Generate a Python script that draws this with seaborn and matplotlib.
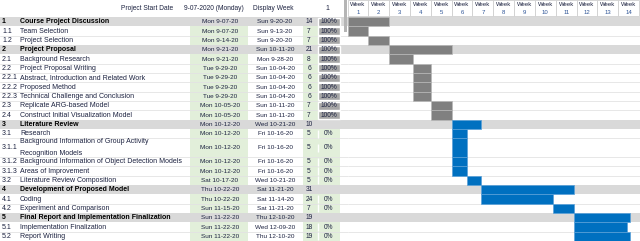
import pandas as pd
import matplotlib
matplotlib.use("Agg")
import matplotlib.pyplot as plt
from matplotlib.patches import Rectangle
import seaborn as sns

# ------------------------------------------
# DATA
# ------------------------------------------
ids = ["1", "1.1", "1.2", "2", "2.1", "2.2", "2.2.1", "2.2.2", "2.2.3", "2.3", "2.4",
       "3", "3.1", "3.1.1", "3.1.2", "3.1.3", "3.2", "4", "4.1", "4.2", "5", "5.1", "5.2"]
tasks = ["Course Project Discussion", "Team Selection", "Project Selection",
         "Project Proposal", "Background Research", "Project Proposal Writing",
         "Abstract, Introduction and Related Work", "Proposed Method",
         "Technical Challenge and Conclusion", "Replicate ARG-based Model",
         "Construct Initial Visualization Model",
         "Literature Review", "Research",
         "Background Information of Group Activity\nRecognition Models",
         "Background Information of Object Detection Models",
         "Areas of Improvement", "Literature Review Composition",
         "Development of Proposed Model", "Coding", "Experiment and Comparison",
         "Final Report and Implementation Finalization",
         "Implementation Finalization", "Report Writing"]
starts = ["2020-09-07", "2020-09-07", "2020-09-14", "2020-09-21", "2020-09-21",
          "2020-09-29", "2020-09-29", "2020-09-29", "2020-09-29", "2020-10-05",
          "2020-10-05", "2020-10-12", "2020-10-12", "2020-10-12", "2020-10-12",
          "2020-10-12", "2020-10-17", "2020-10-22", "2020-10-22", "2020-11-15",
          "2020-11-22", "2020-11-22", "2020-11-22"]
ends = ["2020-09-20", "2020-09-13", "2020-09-20", "2020-10-11", "2020-09-28",
        "2020-10-04", "2020-10-04", "2020-10-04", "2020-10-04", "2020-10-11",
        "2020-10-11", "2020-10-21", "2020-10-16", "2020-10-16", "2020-10-16",
        "2020-10-16", "2020-10-21", "2020-11-21", "2020-11-14", "2020-11-21",
        "2020-12-10", "2020-12-09", "2020-12-10"]
progress = [100, 100, 100, 100, 100, 100, 100, 100, 100, 100, 100,
            None, 0, 0, 0, 0, 0, None, 0, 0, None, 0, 0]
week_labels = ["Week\n%d" % i for i in range(1, 15)]

project_start = pd.Timestamp("2020-09-07")

df = pd.DataFrame({"id": ids, "task": tasks,
                   "start": pd.to_datetime(starts), "end": pd.to_datetime(ends),
                   "progress": progress})
df["days"] = (df["end"] - df["start"]).dt.days + 1
df["offset"] = (df["start"] - project_start).dt.days
df["group"] = ~df["id"].str.contains(r"\.")
df["phase"] = df["id"].str.split(".").str[0].astype(int)
df["h"] = df["task"].str.count("\n") + 1
df["top"] = df["h"].cumsum() - df["h"]
df["y"] = df["top"] + df["h"] / 2


def fmt(d):
    return "%s %d-%02d-%s" % (d.strftime("%a"), d.month, d.day, d.strftime("%y"))


# ------------------------------------------
# STYLE
# ------------------------------------------
sns.set_theme(style="white")
plt.rcParams["font.family"] = ["Liberation Sans", "DejaVu Sans"]

GREEN = "#e2efda"
GROUP = "#d9d9d9"
LINE = "#e3e3e3"
TXT = "#1c2240"
GREY_BAR = "#808080"
BLUE_BAR = "#0070c0"

n_units = df["h"].sum()
head = 17 / (224 / n_units)

fig = plt.figure(figsize=(6.4, 2.41), dpi=100)
g_left = 347.5
ax_t = fig.add_axes([0, 0, g_left / 640, 1])
ax_g = fig.add_axes([g_left / 640, 0, 1 - g_left / 640, 1])
day_px = 20.83 / 7

ax_t.set_xlim(0, g_left)
ax_g.set_xlim(0, (640 - g_left) / day_px)
for ax in (ax_t, ax_g):
    ax.set_ylim(n_units, -head)
    ax.axis("off")

# ------------------------------------------
# TABLE PART
# ------------------------------------------
ax_t.add_patch(Rectangle((190, 0), 58, n_units, color=GREEN, zorder=0, lw=0))
ax_t.add_patch(Rectangle((303, 0), 37, n_units, color=GREEN, zorder=0, lw=0))

for _, r in df.iterrows():
    if r["group"]:
        for ax in (ax_t, ax_g):
            ax.axhspan(r["top"], r["top"] + r["h"], color=GROUP, zorder=1, lw=0)
    else:
        for ax in (ax_t, ax_g):
            ax.axhline(r["top"] + r["h"], color=LINE, lw=0.6, zorder=1)

    w = "bold" if r["group"] else "normal"
    c = "black" if r["group"] else TXT
    ax_t.text(2, r["y"], r["id"], fontsize=5, fontweight=w, color=c,
              va="center", zorder=5)
    ax_t.text(20, r["y"], r["task"], fontsize=5, fontweight=w, color=c,
              va="center", linespacing=1.9, zorder=5)
    ax_t.text(220, r["y"], fmt(r["start"]), fontsize=4.6, color=TXT,
              ha="center", va="center", zorder=5)
    ax_t.text(275, r["y"], fmt(r["end"]), fontsize=4.6, color=TXT,
              ha="center", va="center", zorder=5)
    ax_t.text(309, r["y"], str(r["days"]), fontsize=4.8, color=TXT,
              ha="center", va="center", zorder=5)
    if pd.notna(r["progress"]):
        ax_t.barh(r["y"], 22 * r["progress"] / 100, left=318, height=0.85,
                  color="#a6a6a6", zorder=3)
        ax_t.text(329, r["y"], "%d%%" % r["progress"], fontsize=4.8, color=TXT,
                  ha="center", va="center", zorder=5)

# header row
hy = -head / 2
ax_t.text(173, hy, "Project Start Date", fontsize=4.8, color=TXT, ha="right", va="center")
ax_t.text(184, hy, "9-07-2020 (Monday)", fontsize=4.8, color=TXT, ha="left", va="center")
ax_t.text(273, hy, "Display Week", fontsize=4.8, color=TXT, ha="center", va="center")
ax_t.text(327, hy, "1", fontsize=5, color=TXT, ha="center", va="center")
ax_t.add_patch(Rectangle((343.5, -head), 3.5, head + 1.6, color="#b5b5b5", lw=0, zorder=2))

# ------------------------------------------
# GANTT PART
# ------------------------------------------
for i, lab in enumerate(week_labels):
    ax_g.add_patch(Rectangle((7 * i, -head), 7, head * 0.95, facecolor="white",
                             edgecolor="#cfcfcf", lw=0.6, zorder=2))
    wk, num = lab.split("\n")
    ax_g.text(7 * i + 3.5, -head * 0.72, wk, fontsize=4.3, color=TXT,
              ha="center", va="center", zorder=3)
    ax_g.text(7 * i + 3.5, -head * 0.28, num, fontsize=4.3, color="#2f5597",
              ha="center", va="center", zorder=3)

colors = [GREY_BAR if p <= 2 else BLUE_BAR for p in df["phase"]]
edges = ["#b8b8b8" if p <= 2 else "#5aa0d8" for p in df["phase"]]
ax_g.barh(df["y"], df["days"], left=df["offset"], height=df["h"],
          color=colors, edgecolor=edges, linewidth=0.5, zorder=4)

fig.savefig("out.png", dpi=100)
